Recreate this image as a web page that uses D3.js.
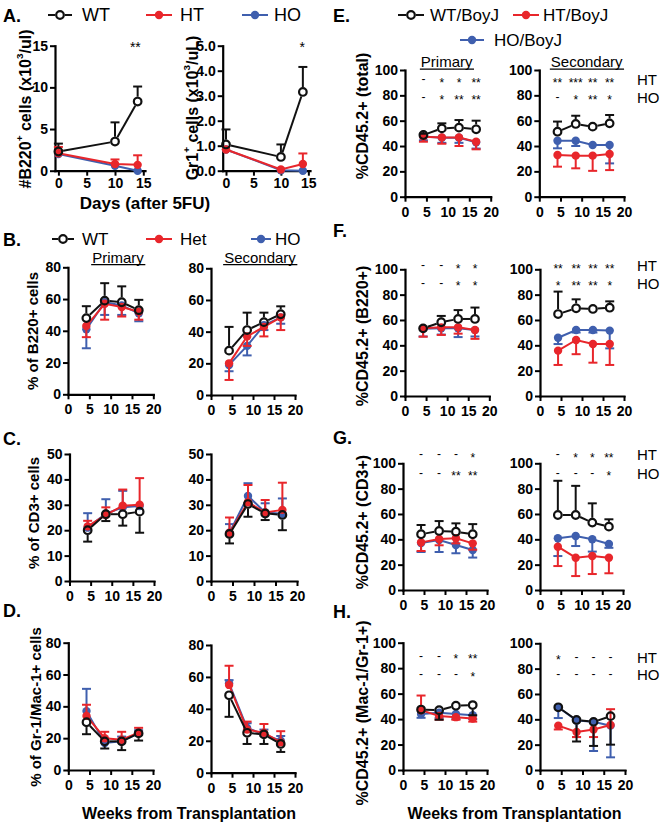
<!DOCTYPE html>
<html><head><meta charset="utf-8">
<script src="https://cdn.jsdelivr.net/npm/d3@7"></script>
<style>body{margin:0;background:#fff}</style>
</head><body>
<svg id="c" width="660" height="824"></svg>
<script>
// ---------------- DATA ----------------
const daysA = [0, 10, 14];
const weeks = [4.3, 8.6, 12.6, 16.6];
const dayTicks = [0, 5, 10, 15];
const weekTicks = [0, 5, 10, 15, 20];
const ticksA1 = [0, 5, 10, 15];
const ticksA2 = [0, 1, 2, 3, 4, 5];
const ticks80 = [0, 20, 40, 60, 80];
const ticks50 = [0, 10, 20, 30, 40, 50];
const ticks100 = [0, 20, 40, 60, 80, 100];

const legendA = ["WT", "HT", "HO"];
const legendB = ["WT", "Het", "HO"];
const legendE = ["WT/BoyJ", "HT/BoyJ", "HO/BoyJ"];
const rowLabels = ["HT", "HO"];

// means per series: [WT, HT, HO]; errors signed (+ drawn up, - drawn down)
const aB220 = [[2.3, 3.5, 8.3], [2.1, 0.8, 0.7], [2.0, 0.6, 0.0]];
const aB220Err = [[0.95, 2.3, 1.8], [0.75, 0.55, 1.15], [0, 0, 0]];
const aGr1 = [[1.05, 0.55, 3.15], [0.85, 0.05, 0.27], [0.85, 0.02, 0.0]];
const aGr1Err = [[0.6, 0.5, 1.0], [0, 0, 0.42], [0, 0, 0]];

const bPri = [[48, 59, 58, 53], [43, 57, 55, 52], [41, 58, 56, 51]];
const bPriErr = [[7.5, 11, 10, 6.5], [-7, -10, -6, -5], [-12, -8, -6, -5]];
const bSec = [[28, 41, 46, 51], [20, 37, 43, 49], [19, 31, 44, 49]];
const bSecErr = [[15, 11, 6, 5], [-10.5, -6, -6, -8], [-4, -6, -3, -4]];

const cPri = [[20, 26.3, 26.3, 27.3], [21.5, 26, 29.6, 30], [21, 26.5, 29, 29.5]];
const cPriErr = [[-4.5, -2.7, -4.5, -8.3], [2.2, 3, 6.4, 10.5], [5.7, 5.7, 6.5, 0]];
const cSec = [[18.5, 30.3, 26.6, 26], [19, 31, 27, 28], [19, 33.5, 27, 26.5]];
const cSecErr = [[-3.7, -5, -2.6, -6], [6, 6.8, 4.9, 10.7], [3.4, 5, 3.6, 6]];

const dPri = [[30, 18, 18, 23], [34, 20, 19, 23.5], [37, 17, 18, 23]];
const dPriErr = [[-7.5, -4.5, -5.5, -4.5], [7, 4, 5, 3], [14, 3, 3, 2]];
const dSec = [[48.5, 25, 24, 18], [55, 27, 25, 19], [56, 28, 24, 20]];
const dSecErr = [[-13.5, -7, -6, -5], [12, 5, 5.5, 7], [2, 3, 3, 3]];

const ePri = [[48.7, 53.9, 54.5, 53.2], [47.4, 46.8, 46.8, 43.4], [47.5, 46.5, 46.5, 43]];
const ePriErr = [[1, 4, 6, 6.8], [-4, -5, -6.8, -6], [-3, -4, -4, -5]];
const eSec = [[51.3, 57.4, 55.3, 57.9], [32.9, 32.4, 32.4, 33.7], [44.2, 44.2, 40.8, 40.8]];
const eSecErr = [[8, 6.5, 0, 6.6], [-9.2, -10, -12, -12.7], [-6, -4.2, 0, -14.5]];

const fPri = [[53.4, 58.2, 60.8, 60.8], [53.4, 54.2, 54.2, 52.1], [53, 53.5, 53.5, 52]];
const fPriErr = [[0, 5, 7, 9], [-6.6, -6, -5, -7], [-6, -5, -7, -5]];
const fSec = [[64.7, 69.2, 68.7, 69.7], [35.8, 44.2, 41, 41], [46, 52.1, 52.1, 51.6]];
const fSecErr = [[17.7, 7.1, 0, 5], [-11.3, -11.2, -14.7, -16.5], [-5, -2, -2, -14]];

const gPri = [[44, 46.6, 46, 44], [37.6, 40.3, 40.8, 36.8], [37, 39.5, 35.5, 31.6]];
const gPriErr = [[7.3, 7.8, 6.6, 8], [-6.8, -5, -4, -5], [-7, -9.5, -6.5, -6]];
const gSec = [[59.2, 59.2, 53.2, 50], [34.2, 25.5, 26.8, 25.5], [40.8, 42.6, 40, 36.3]];
const gSecErr = [[27, 23, 15.2, 5.8], [-15.3, -14.5, -14.2, -12.3], [-14, -7.9, -9.7, -3]];

const hPri = [[47.5, 47, 50.5, 51], [47, 42.5, 41.5, 40.5], [44, 45, 44, 43]];
const hPriErr = [[0, -7.5, 0, -8], [11.5, -3, -2, -2.5], [-3, -4, -4, -3]];
const hSec = [[49.5, 39.5, 38, 42.5], [35, 30, 32, 35.5], [49.5, 39, 38, 35]];
const hSecErr = [[0, -17, -19, -22.5], [-3, -4, -6, 12.5], [-8.5, -13, -23, -25]];

// significance marks: [HT row, HO row]
const eStarsPri = [["-", "*", "*", "**"], ["-", "*", "**", "**"]];
const eStarsSec = [["**", "***", "**", "**"], ["-", "*", "**", "*"]];
const fStarsPri = [["-", "-", "*", "*"], ["-", "-", "*", "*"]];
const fStarsSec = [["**", "**", "**", "**"], ["*", "**", "**", "*"]];
const gStarsPri = [["-", "-", "-", "*"], ["-", "-", "**", "**"]];
const gStarsSec = [["-", "*", "*", "**"], ["-", "-", "-", "*"]];
const hStarsPri = [["-", "-", "*", "**"], ["-", "-", "-", "*"]];
const hStarsSec = [["*", "-", "-", "-"], ["-", "-", "-", "-"]];

// ---------------- DRAWING ----------------
const svg = d3.select("#c");
const FONT = "'Liberation Sans', Arial, Helvetica, sans-serif";
const COLORS = ["#111111", "#e8262b", "#3f5fae"];
const R_WT = 3.8, R_F = 4.2;

function txt(x, y, s, opt = {}) {
  return svg.append("text").attr("x", x).attr("y", y).text(s)
    .attr("font-family", FONT).attr("font-size", opt.size || 14)
    .attr("font-weight", opt.bold ? "bold" : "normal")
    .attr("text-anchor", opt.anchor || "start").attr("fill", "#000");
}

function marker(g, cx, cy, i) {
  if (i === 0) {
    g.append("circle").attr("cx", cx).attr("cy", cy).attr("r", R_WT)
      .attr("fill", "none").attr("stroke", COLORS[0]).attr("stroke-width", 2.2);
  } else {
    g.append("circle").attr("cx", cx).attr("cy", cy).attr("r", R_F).attr("fill", COLORS[i]);
  }
}

function plot(cfg) {
  const [xL, xR, yT, yB] = cfg.box;
  const x = d3.scaleLinear().domain(cfg.xDom).range([xL, xR]);
  const y = d3.scaleLinear().domain(cfg.yDom).range([yB, yT]);
  const g = svg.append("g");
  const xa = g.append("g").attr("transform", `translate(0,${yB})`)
    .call(d3.axisBottom(x).tickValues(cfg.xTicks).tickSize(5).tickSizeOuter(0).tickPadding(cfg.xPad != null ? cfg.xPad : 5));
  const ya = g.append("g").attr("transform", `translate(${xL},0)`)
    .call(d3.axisLeft(y).tickValues(cfg.yTicks).tickSize(5).tickSizeOuter(0).tickPadding(2));
  [xa, ya].forEach(a => {
    a.select(".domain").attr("stroke", "#000").attr("stroke-width", 2.2).attr("stroke-linecap", "square");
    a.selectAll(".tick line").attr("stroke", "#000").attr("stroke-width", 2);
    a.selectAll("text").attr("font-family", FONT).attr("font-weight", "bold")
      .attr("font-size", cfg.tickSize || 14).attr("fill", "#000");
  });
  const sg = g.append("g");
  [2, 1, 0].forEach(i => {
    const col = COLORS[i];
    const m = cfg.m[i], e = cfg.e[i];
    const pts = cfg.xs.map((xv, j) => [x(xv), y(m[j])]);
    // error bars
    e.forEach((ev, j) => {
      if (!ev) return;
      const y0 = y(m[j]), y1 = y(m[j] + ev);
      const dir = ev > 0 ? -1 : 1;
      const ys = i === 0 ? y0 + dir * (R_WT + 1) : y0;
      sg.append("line").attr("x1", pts[j][0]).attr("x2", pts[j][0]).attr("y1", ys).attr("y2", y1)
        .attr("stroke", col).attr("stroke-width", 2);
      sg.append("line").attr("x1", pts[j][0] - 4.5).attr("x2", pts[j][0] + 4.5).attr("y1", y1).attr("y2", y1)
        .attr("stroke", col).attr("stroke-width", 2);
    });
    // connecting line
    if (i === 0) {
      for (let j = 0; j < pts.length - 1; j++) {
        const [ax, ay] = pts[j], [bx, by] = pts[j + 1];
        const L = Math.hypot(bx - ax, by - ay), s = (R_WT + 1) / L;
        if (L <= 2 * (R_WT + 1)) continue;
        sg.append("line").attr("x1", ax + (bx - ax) * s).attr("y1", ay + (by - ay) * s)
          .attr("x2", bx - (bx - ax) * s).attr("y2", by - (by - ay) * s)
          .attr("stroke", col).attr("stroke-width", 2);
      }
    } else {
      sg.append("path").attr("d", d3.line()(pts)).attr("fill", "none").attr("stroke", col).attr("stroke-width", 2);
    }
    pts.forEach(p => marker(sg, p[0], p[1], i));
  });
  // significance rows
  if (cfg.stars) {
    cfg.stars.forEach((row, r) => {
      const yy = y(cfg.starRows[r]);
      row.forEach((s, j) => {
        const isDash = s === "-";
        txt(x(cfg.xs[j]), yy + (isDash ? 3.3 : 6.6), s, { size: 12, anchor: "middle" });
      });
      if (cfg.rowLabels) txt(637, yy + 5.3, rowLabels[r], { size: 15 });
    });
  }
  if (cfg.ann) txt(x(cfg.ann.x), y(cfg.ann.y) + 8, cfg.ann.s, { size: 14, anchor: "middle" });
  if (cfg.title) {
    const t = txt(cfg.title.x, cfg.title.y, cfg.title.s, { size: 15, anchor: "middle" });
    const bb = t.node().getBBox();
    svg.append("line").attr("x1", bb.x - 1).attr("x2", bb.x + bb.width + 1)
      .attr("y1", cfg.title.y + 2.2).attr("y2", cfg.title.y + 2.2).attr("stroke", "#000").attr("stroke-width", 1.2);
  }
}

function ylabel(cx, cy, s, size, parts) {
  const t = svg.append("text").attr("transform", `translate(${cx},${cy}) rotate(-90)`)
    .attr("text-anchor", "middle").attr("dominant-baseline", "central")
    .attr("font-family", FONT).attr("font-weight", "bold").attr("font-size", size).attr("fill", "#000");
  if (parts) {
    parts.forEach(p => {
      const ts = t.append("tspan").text(p[0]);
      if (p[1]) ts.attr("baseline-shift", "super").attr("font-size", size * 0.62);
    });
  } else t.text(s);
}

function legendItem(mx, cy, half, tx, label, i, size) {
  const g = svg.append("g");
  const col = COLORS[i];
  if (i === 0) {
    g.append("line").attr("x1", mx - half).attr("x2", mx - R_WT - 1).attr("y1", cy).attr("y2", cy).attr("stroke", col).attr("stroke-width", 2);
    g.append("line").attr("x1", mx + R_WT + 1).attr("x2", mx + half).attr("y1", cy).attr("y2", cy).attr("stroke", col).attr("stroke-width", 2);
  } else {
    g.append("line").attr("x1", mx - half).attr("x2", mx + half).attr("y1", cy).attr("y2", cy).attr("stroke", col).attr("stroke-width", 2);
  }
  marker(g, mx, cy, i);
  txt(tx, cy + size * 0.35, label, { size: size });
}

// Panel letters
[["A.", 3, 22], ["B.", 3, 246], ["C.", 3, 445], ["D.", 3, 617],
 ["E.", 333, 22], ["F.", 333, 237], ["G.", 333, 444], ["H.", 333, 618]]
  .forEach(d => txt(d[1], d[2], d[0], { size: 18, bold: true }));

// Legends
legendItem(60, 15, 12, 82, legendA[0], 0, 18);
legendItem(159, 15, 13, 180, legendA[1], 1, 18);
legendItem(255, 15, 13, 274, legendA[2], 2, 18);
legendItem(63, 239, 11, 82, legendB[0], 0, 17);
legendItem(159, 239, 13, 180, legendB[1], 1, 17);
legendItem(261, 239, 10, 275, legendB[2], 2, 17);
legendItem(411, 15, 13, 430, legendE[0], 0, 17);
legendItem(526, 15, 13, 543, legendE[1], 1, 17);
legendItem(472, 40, 12, 494, legendE[2], 2, 17);

// Panel A
plot({ xs: daysA, m: aB220, e: aB220Err, xDom: [-0.6, 15.3], xTicks: dayTicks, yDom: [0, 15], yTicks: ticksA1,
  box: [55, 145, 45.7, 170.7], xPad: 2, ann: { x: 13.6, y: 15.2, s: "**" } });
plot({ xs: daysA, m: aGr1, e: aGr1Err, xDom: [-0.6, 15.3], xTicks: dayTicks, yDom: [0, 5], yTicks: ticksA2,
  box: [222.7, 310, 45.7, 170.7], xPad: 2, ann: { x: 13.9, y: 5.05, s: "*" } });
ylabel(25, 109, null, 16, [["#B220"], ["+", 1], [" cells (x10"], ["3", 1], ["/ul)"]]);
ylabel(192, 108, null, 16, [["Gr1"], ["+", 1], [" cells (x10"], ["3", 1], ["/uL)"]]);
txt(145, 209, "Days (after 5FU)", { size: 17, bold: true, anchor: "middle" });

// Panel B
plot({ xs: weeks, m: bPri, e: bPriErr, xDom: [0, 20], xTicks: weekTicks, yDom: [0, 80], yTicks: ticks80,
  box: [68, 153.3, 267.3, 394.3], title: { x: 118, y: 262.5, s: "Primary" } });
plot({ xs: weeks, m: bSec, e: bSecErr, xDom: [0, 20], xTicks: weekTicks, yDom: [0, 80], yTicks: ticks80,
  box: [211, 295, 268.3, 395], title: { x: 260, y: 262.5, s: "Secondary" } });
ylabel(32, 331, "% of B220+ cells", 15);

// Panel C
plot({ xs: weeks, m: cPri, e: cPriErr, xDom: [0, 20], xTicks: weekTicks, yDom: [0, 50], yTicks: ticks50,
  box: [69.5, 154, 454, 581] });
plot({ xs: weeks, m: cSec, e: cSecErr, xDom: [0, 20], xTicks: weekTicks, yDom: [0, 50], yTicks: ticks50,
  box: [211, 297, 454, 581] });
ylabel(33, 513, "% of CD3+ cells", 15);

// Panel D
plot({ xs: weeks, m: dPri, e: dPriErr, xDom: [0, 20], xTicks: weekTicks, yDom: [0, 80], yTicks: ticks80,
  box: [68.3, 153, 642.7, 770] });
plot({ xs: weeks, m: dSec, e: dSecErr, xDom: [0, 20], xTicks: weekTicks, yDom: [0, 80], yTicks: ticks80,
  box: [211, 295, 645, 772.7] });
ylabel(35, 707, "% of Gr-1/Mac-1+ cells", 15);
txt(189, 819, "Weeks from Transplantation", { size: 16, bold: true, anchor: "middle" });

// Panel E
plot({ xs: weeks, m: ePri, e: ePriErr, xDom: [0, 20], xTicks: weekTicks, yDom: [0, 100], yTicks: ticks100,
  box: [405, 490.7, 70, 196.7], stars: eStarsPri, starRows: [92, 78.3], title: { x: 446.7, y: 67, s: "Primary" } });
plot({ xs: weeks, m: eSec, e: eSecErr, xDom: [0, 20], xTicks: weekTicks, yDom: [0, 100], yTicks: ticks100,
  box: [539.3, 624, 70, 196.7], stars: eStarsSec, starRows: [92, 78.3], rowLabels: true, title: { x: 586.7, y: 67, s: "Secondary" } });
ylabel(362, 116, "%CD45.2+ (total)", 16);

// Panel F
plot({ xs: weeks, m: fPri, e: fPriErr, xDom: [0, 20], xTicks: weekTicks, yDom: [0, 100], yTicks: ticks100,
  box: [405, 489.3, 269.3, 396], stars: fStarsPri, starRows: [102.5, 88.5] });
plot({ xs: weeks, m: fSec, e: fSecErr, xDom: [0, 20], xTicks: weekTicks, yDom: [0, 100], yTicks: ticks100,
  box: [540, 624, 269.3, 396], stars: fStarsSec, starRows: [102.5, 88.5], rowLabels: true });
ylabel(362, 336, "%CD45.2+ (B220+)", 16);

// Panel G
plot({ xs: weeks, m: gPri, e: gPriErr, xDom: [0, 20], xTicks: weekTicks, yDom: [0, 100], yTicks: ticks100,
  box: [403, 487, 463.3, 590], stars: gStarsPri, starRows: [106.5, 92] });
plot({ xs: weeks, m: gSec, e: gSecErr, xDom: [0, 20], xTicks: weekTicks, yDom: [0, 100], yTicks: ticks100,
  box: [540, 623, 463.3, 590], stars: gStarsSec, starRows: [106.5, 92], rowLabels: true });
ylabel(362, 522, "%CD45.2+ (CD3+)", 16);

// Panel H
plot({ xs: weeks, m: hPri, e: hPriErr, xDom: [0, 20], xTicks: weekTicks, yDom: [0, 100], yTicks: ticks100,
  box: [403, 487, 642.7, 770], stars: hStarsPri, starRows: [89, 75] });
plot({ xs: weeks, m: hSec, e: hSecErr, xDom: [0, 20], xTicks: weekTicks, yDom: [0, 100], yTicks: ticks100,
  box: [540, 625, 643.3, 770], stars: hStarsSec, starRows: [89, 75], rowLabels: true });
ylabel(362, 713, "%CD45.2+ (Mac-1/Gr-1+)", 16);
txt(514.5, 819, "Weeks from Transplantation", { size: 16, bold: true, anchor: "middle" });
</script>
</body></html>
